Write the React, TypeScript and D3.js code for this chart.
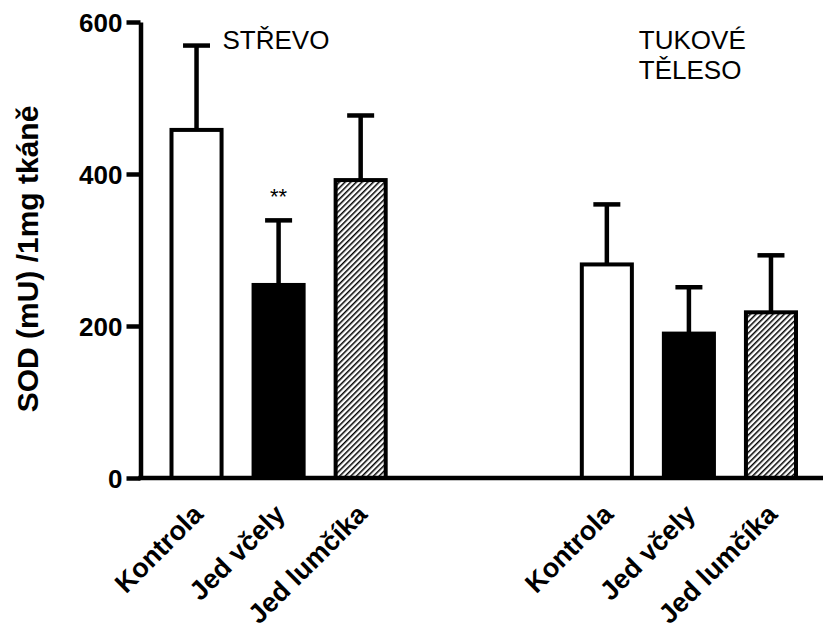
import { useRef, useEffect } from 'react';
import * as d3 from 'd3';

// data
const categories = ['Kontrola', 'Jed včely', 'Jed lumčíka'];
const groups = ['STŘEVO', 'TUKOVÉ TĚLESO'];
const strevoMean = [458, 254, 392];
const strevoErr = [111, 85, 85];
const tukoveMean = [281, 190, 218];
const tukoveErr = [79, 61, 75];
const yTicks = [0, 200, 400, 600];
const fills = ['white', 'black', 'url(#hatch)'];

const FONT = "'Liberation Sans', Arial, sans-serif";

const useD3 = (renderChartFn, dependencies) => {
  const ref = useRef(null);
  useEffect(() => {
    const svg = d3.select(ref.current);
    svg.selectAll('*').remove();
    renderChartFn(svg);
    return () => {};
  }, dependencies);
  return ref;
};

export default function App() {
  const width = 823;
  const height = 635;

  const ref = useD3((svg) => {
    const axisX = 140.5;

    const rows = [
      ...categories.map((c, i) => ({ key: groups[0] + '|' + c, cat: c, i, mean: strevoMean[i], err: strevoErr[i] })),
      ...categories.map((c, i) => ({ key: groups[1] + '|' + c, cat: c, i, mean: tukoveMean[i], err: tukoveErr[i] })),
    ];
    const slots = [...rows.slice(0, 3).map((d) => d.key), 'gap1', 'gap2', ...rows.slice(3).map((d) => d.key)];

    const x = d3.scaleBand().domain(slots).range([155.5, 812]).paddingInner(0.39).paddingOuter(0.195);
    const y = d3.scaleLinear().domain([0, 600]).range([478, 22]);
    const cx = (d) => x(d.key) + x.bandwidth() / 2;

    const defs = svg.append('defs');
    const pat = defs
      .append('pattern')
      .attr('id', 'hatch')
      .attr('patternUnits', 'userSpaceOnUse')
      .attr('width', 4)
      .attr('height', 4)
      .attr('patternTransform', 'rotate(45)');
    pat.append('rect').attr('width', 4).attr('height', 4).attr('fill', 'white');
    pat.append('rect').attr('x', 0).attr('y', 0).attr('width', 1.5).attr('height', 4).attr('fill', 'black');

    // error bars (upwards only)
    const eb = svg.append('g').attr('class', 'errbars');
    eb.selectAll('line.stem')
      .data(rows)
      .join('line')
      .attr('class', 'stem')
      .attr('x1', cx)
      .attr('x2', cx)
      .attr('y1', (d) => y(d.mean))
      .attr('y2', (d) => y(d.mean + d.err))
      .attr('stroke', 'black')
      .attr('stroke-width', 4.5);
    eb.selectAll('line.cap')
      .data(rows)
      .join('line')
      .attr('class', 'cap')
      .attr('x1', (d) => cx(d) - 13.5)
      .attr('x2', (d) => cx(d) + 13.5)
      .attr('y1', (d) => y(d.mean + d.err))
      .attr('y2', (d) => y(d.mean + d.err))
      .attr('stroke', 'black')
      .attr('stroke-width', 4.5);

    // bars
    svg
      .append('g')
      .attr('class', 'plot-area')
      .selectAll('rect')
      .data(rows)
      .join('rect')
      .attr('x', (d) => x(d.key))
      .attr('width', x.bandwidth())
      .attr('y', (d) => y(d.mean))
      .attr('height', (d) => y(0) - y(d.mean))
      .attr('fill', (d) => fills[d.i])
      .attr('stroke', 'black')
      .attr('stroke-width', 4);

    // significance mark
    svg
      .append('text')
      .attr('x', cx(rows[1]))
      .attr('y', 204)
      .attr('text-anchor', 'middle')
      .attr('font-family', FONT)
      .attr('font-size', 22)
      .text('**');

    // y axis
    const yAxis = svg
      .append('g')
      .attr('class', 'y-axis')
      .attr('transform', `translate(${axisX},0)`)
      .call(d3.axisLeft(y).tickValues(yTicks).tickSize(14).tickSizeOuter(0).tickPadding(4));
    yAxis.select('.domain').attr('stroke', 'black').attr('stroke-width', 4.5);
    yAxis.selectAll('.tick line').attr('stroke', 'black').attr('stroke-width', 4.5);
    yAxis
      .selectAll('.tick text')
      .attr('fill', 'black')
      .attr('font-family', FONT)
      .attr('font-weight', 'bold')
      .attr('font-size', 26)
      .attr('dy', '0.36em');

    // x axis line
    svg
      .append('line')
      .attr('x1', axisX - 2.25)
      .attr('x2', width)
      .attr('y1', y(0))
      .attr('y2', y(0))
      .attr('stroke', 'black')
      .attr('stroke-width', 4.5);

    // category labels
    svg
      .append('g')
      .attr('class', 'x-labels')
      .selectAll('text')
      .data(rows)
      .join('text')
      .attr('transform', (d) => `translate(${cx(d) + 8},516) rotate(-45)`)
      .attr('text-anchor', 'end')
      .attr('font-family', FONT)
      .attr('font-weight', 'bold')
      .attr('font-size', 27)
      .text((d) => d.cat);

    // y title
    svg
      .append('text')
      .attr('transform', 'translate(38,259) rotate(-90)')
      .attr('text-anchor', 'middle')
      .attr('font-family', FONT)
      .attr('font-weight', 'bold')
      .attr('font-size', 30)
      .text('SOD (mU) /1mg tkáně');

    // group titles
    svg
      .append('text')
      .attr('x', cx(rows[0]) + 26)
      .attr('y', 49)
      .attr('font-family', FONT)
      .attr('font-size', 26)
      .text(groups[0]);
    const t2 = svg
      .append('text')
      .attr('y', 49)
      .attr('font-family', FONT)
      .attr('font-size', 26);
    groups[1].split(' ').forEach((w, i) => {
      t2.append('tspan')
        .attr('x', cx(rows[3]) + 32)
        .attr('dy', i === 0 ? 0 : 30)
        .text(w);
    });
  }, []);

  return (
    <svg
      ref={ref}
      width={width}
      height={height}
      style={{ position: 'absolute', left: 0, top: 0, background: 'white' }}
    />
  );
}
